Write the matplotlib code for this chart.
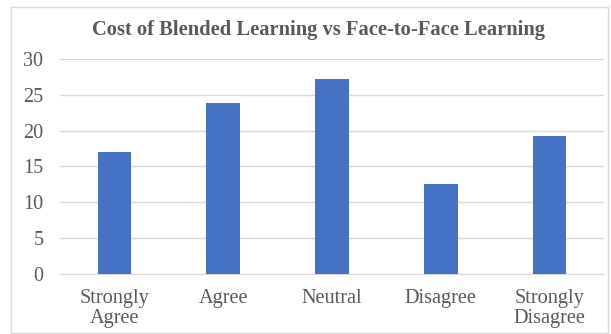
import matplotlib.pyplot as plt
from matplotlib.patches import Rectangle

categories = ["Strongly\nAgree", "Agree", "Neutral", "Disagree", "Strongly\nDisagree"]
values = [17.0, 23.9, 27.3, 12.5, 19.3]
yticks = [0, 5, 10, 15, 20, 25, 30]

plt.rcParams['font.family'] = ['Liberation Serif', 'DejaVu Serif']
fig = plt.figure(figsize=(6.11, 3.34), dpi=100)
ax = fig.add_axes([0.0982, 0.181, 0.890, 0.641])

ax.bar(range(len(values)), values, width=0.31, color="#4472C4", zorder=3)
ax.set_ylim(0, 30)
ax.set_xlim(-0.5, len(values) - 0.5)
ax.set_yticks(yticks)
ax.set_xticks(range(len(categories)))
ax.set_xticklabels(categories, fontsize=14.6, color="#595959", linespacing=1.08)
ax.tick_params(axis='y', labelsize=14.5, labelcolor="#595959", length=0, pad=12)
ax.tick_params(axis='x', length=0, pad=11)
ax.yaxis.grid(True, color="#d9d9d9", linewidth=1.0, zorder=0)
for s in ["top", "right", "left"]:
    ax.spines[s].set_visible(False)
ax.spines["bottom"].set_color("#d9d9d9")

fig.text(318 / 611, 1 - 29.5 / 334, "Cost of Blended Learning vs Face-to-Face Learning",
         ha="center", va="center", fontsize=14.8, fontweight="bold", color="#595959")

fig.patches.append(Rectangle((11 / 611, 1 / 334), 597 / 611, 326 / 334, transform=fig.transFigure,
                             fill=False, edgecolor="#d9d9d9", linewidth=1))

fig.savefig("out.png", dpi=100)
